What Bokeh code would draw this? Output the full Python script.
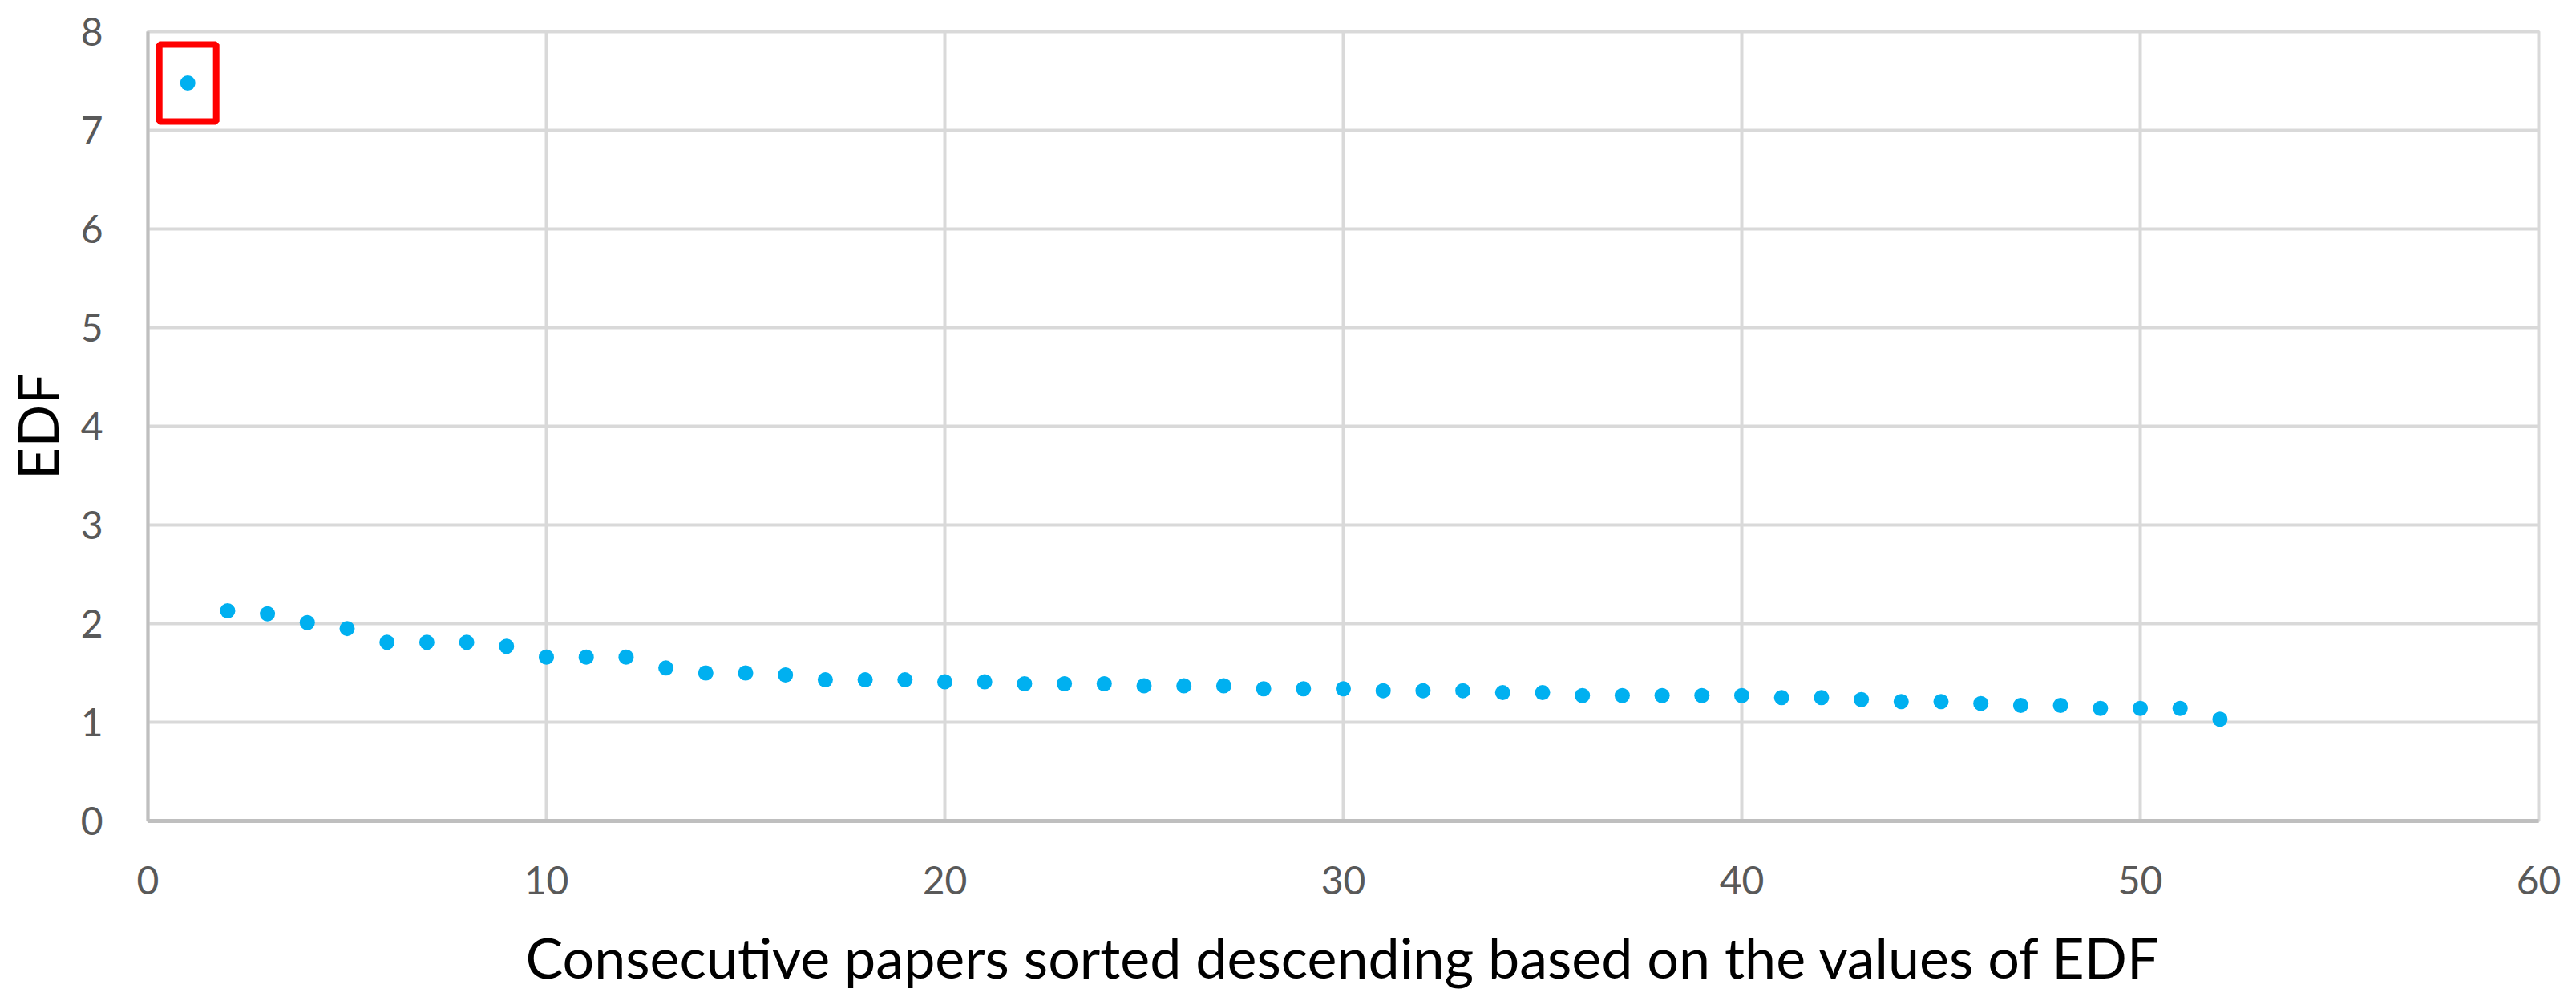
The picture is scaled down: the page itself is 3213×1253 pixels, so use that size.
from bokeh.plotting import figure
from bokeh.models import ColumnDataSource, FixedTicker
from bokeh.embed import file_html
from bokeh.resources import INLINE

# Data
paper_rank = list(range(1, 53))
edf_values = [
    7.48, 2.13, 2.10, 2.01, 1.95, 1.81, 1.81, 1.81, 1.77, 1.66,
    1.66, 1.66, 1.55, 1.50, 1.50, 1.48, 1.43, 1.43, 1.43, 1.41,
    1.41, 1.39, 1.39, 1.39, 1.37, 1.37, 1.37, 1.34, 1.34, 1.34,
    1.32, 1.32, 1.32, 1.30, 1.30, 1.27, 1.27, 1.27, 1.27, 1.27,
    1.25, 1.25, 1.23, 1.21, 1.21, 1.19, 1.17, 1.17, 1.14, 1.14,
    1.14, 1.03,
]
x_ticks = [0, 10, 20, 30, 40, 50, 60]
y_ticks = [0, 1, 2, 3, 4, 5, 6, 7, 8]
x_title = "Consecutive papers sorted descending based on the values of EDF"
y_title = "EDF"

W, H = 3197, 1237
p = figure(width=W, height=H, x_range=(x_ticks[0], x_ticks[-1]),
           y_range=(y_ticks[0], y_ticks[-1]),
           output_backend="svg", toolbar_location=None,
           min_border_left=184, min_border_right=31,
           min_border_top=39, min_border_bottom=212)

p.background_fill_color = "white"
p.border_fill_color = "white"
p.outline_line_color = "#D9D9D9"
p.outline_line_width = 4

src = ColumnDataSource(dict(x=paper_rank, y=edf_values))
p.scatter("x", "y", source=src, size=19, fill_color="#00B0F0",
          line_color=None)

# highlight box around the outlier
p.rect(x=paper_rank[0], y=edf_values[0], width=71, height=96,
       width_units="screen", height_units="screen",
       fill_color=None, line_color="#FF0000", line_width=8)

font = "Lato"
p.xaxis.ticker = FixedTicker(ticks=x_ticks)
p.yaxis.ticker = FixedTicker(ticks=y_ticks)
for ax in (p.xaxis, p.yaxis):
    ax.major_tick_line_color = None
    ax.minor_tick_line_color = None
    ax.axis_line_color = "#BFBFBF"
    ax.major_label_text_font = font
    ax.major_label_text_font_size = "48px"
    ax.major_label_text_color = "#595959"
    ax.axis_label_text_font = font
    ax.axis_label_text_font_size = "70px"
    ax.axis_label_text_font_style = "normal"
    ax.axis_label_text_color = "#000000"
p.xaxis.axis_line_width = 5
p.yaxis.axis_line_width = 4
p.xaxis.major_label_standoff = 50
p.yaxis.major_label_standoff = 50
p.xaxis.axis_label = x_title
p.yaxis.axis_label = y_title
p.xaxis.axis_label_standoff = 33
p.yaxis.axis_label_standoff = 10

p.xgrid.ticker = FixedTicker(ticks=x_ticks)
p.ygrid.ticker = FixedTicker(ticks=y_ticks)
p.grid.grid_line_color = "#D9D9D9"
p.grid.grid_line_width = 4

open("out.html", "w").write(file_html(p, INLINE))
